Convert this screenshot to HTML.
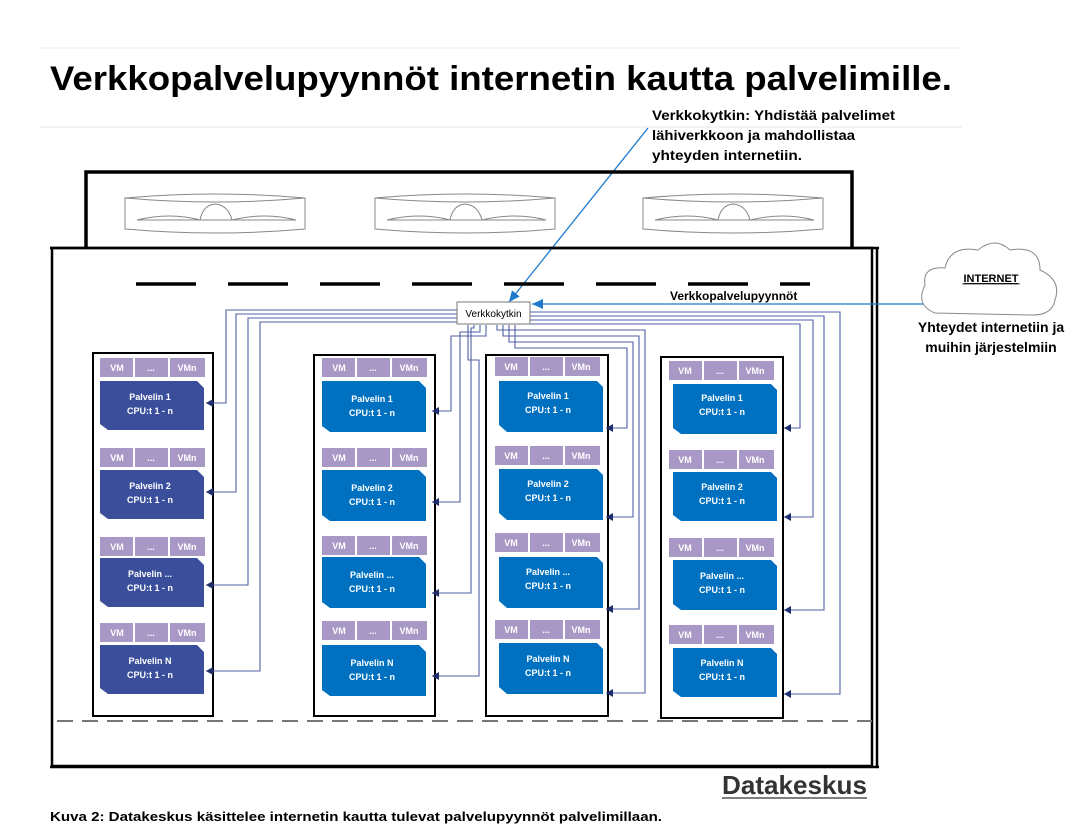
<!DOCTYPE html>
<html><head><meta charset="utf-8"><style>
html,body{margin:0;padding:0;background:#fff;width:1091px;height:832px;overflow:hidden}
svg{display:block}
.t{font-family:"Liberation Sans",sans-serif;font-weight:bold}
.w{fill:#fff;font-size:9px;text-anchor:middle;font-family:"Liberation Sans",sans-serif;font-weight:bold}
.c{fill:none;stroke:#4F62A5;stroke-width:1.1}
</style></head><body>
<svg width="1091" height="832" viewBox="0 0 1091 832" xmlns="http://www.w3.org/2000/svg">
<defs>
<marker id="a" markerWidth="8" markerHeight="8" refX="7" refY="4" orient="auto" markerUnits="userSpaceOnUse"><path d="M0,0L7,4L0,8z" fill="#1F2F6E"/></marker>
<marker id="b" markerWidth="12" markerHeight="10" refX="11" refY="5" orient="auto" markerUnits="userSpaceOnUse"><path d="M0,0L11,5L0,10z" fill="#1F7ACC"/></marker>
</defs>
<line x1="40" y1="48" x2="962" y2="48" stroke="#e8e8e8"/>
<line x1="40" y1="127" x2="962" y2="127" stroke="#e8e8e8"/>
<text class="t" x="50" y="90" font-size="34" textLength="902" lengthAdjust="spacingAndGlyphs">Verkkopalvelupyynnöt internetin kautta palvelimille.</text>
<text class="t" x="652" y="120" font-size="14" textLength="243" lengthAdjust="spacingAndGlyphs">Verkkokytkin: Yhdistää palvelimet</text>
<text class="t" x="652" y="140" font-size="14" textLength="203" lengthAdjust="spacingAndGlyphs">lähiverkkoon ja mahdollistaa</text>
<text class="t" x="652" y="160" font-size="14" textLength="150" lengthAdjust="spacingAndGlyphs">yhteyden internetiin.</text>
<line x1="648" y1="128" x2="509" y2="302" stroke="#1F7ACC" stroke-width="1.3" marker-end="url(#b)"/>
<!-- top box -->
<path d="M86,247 V172 H852 V247" fill="none" stroke="#000" stroke-width="3.5"/>
<g fill="none" stroke="#888" stroke-width="1">
<g id="f1"><path d="M125,198 Q214,190 305,198 V229 Q214,237 125,229 Z M125,198 Q214,206 305,198"/><path d="M137,220 Q170,212 200,220 Q203,205 215,204 Q228,205 232,220 Q265,212 296,220 Z"/></g>
<path d="M375,198 Q465,190 555,198 V229 Q465,237 375,229 Z M375,198 Q465,206 555,198"/><path d="M387,220 Q420,212 450,220 Q453,205 465,204 Q478,205 482,220 Q515,212 546,220 Z"/>
<path d="M643,198 Q733,190 823,198 V229 Q733,237 643,229 Z M643,198 Q733,206 823,198"/><path d="M655,220 Q688,212 718,220 Q721,205 733,204 Q746,205 750,220 Q783,212 814,220 Z"/>
</g>
<!-- main box -->
<rect x="52" y="248" width="820" height="518" fill="none" stroke="#000" stroke-width="2.5"/>
<line x1="877" y1="248" x2="877" y2="766" stroke="#000" stroke-width="2.5"/>
<line x1="50" y1="248" x2="879" y2="248" stroke="#000" stroke-width="2.5"/>
<line x1="50" y1="767" x2="879" y2="767" stroke="#000" stroke-width="2.5"/>
<line x1="136" y1="284" x2="810" y2="284" stroke="#000" stroke-width="3.5" stroke-dasharray="60,32"/>
<line x1="57" y1="721" x2="872" y2="721" stroke="#777" stroke-width="2" stroke-dasharray="16,9"/>
<!-- racks -->
<g fill="none" stroke="#000" stroke-width="2">
<rect x="93" y="353" width="120" height="363"/>
<rect x="314" y="355" width="121" height="361"/>
<rect x="486" y="355" width="122" height="361"/>
<rect x="661" y="357" width="122" height="361"/>
</g>
<!-- connectors -->
<g class="c">
<path d="M457,310 H226 V403 H206" marker-end="url(#a)"/>
<path d="M457,314 H236 V492 H206" marker-end="url(#a)"/>
<path d="M457,318 H248 V585 H206" marker-end="url(#a)"/>
<path d="M457,322 H260 V671 H206" marker-end="url(#a)"/>
<path d="M486,325 V336 H451 V411 H432" marker-end="url(#a)"/>
<path d="M480,325 V332 H460 V502 H432" marker-end="url(#a)"/>
<path d="M474,325 V328 H471 V593 H432" marker-end="url(#a)"/>
<path d="M468,325 V360 H479 V676 H432" marker-end="url(#a)"/>
<path d="M515,325 V348 H627 V428 H606" marker-end="url(#a)"/>
<path d="M509,325 V342 H633 V517 H606" marker-end="url(#a)"/>
<path d="M503,325 V336 H639 V609 H606" marker-end="url(#a)"/>
<path d="M497,325 V330 H645 V693 H606" marker-end="url(#a)"/>
<path d="M530,324 H800 V428 H784" marker-end="url(#a)"/>
<path d="M530,320 H813 V517 H784" marker-end="url(#a)"/>
<path d="M530,316 H824 V610 H784" marker-end="url(#a)"/>
<path d="M530,312 H840 V694 H784" marker-end="url(#a)"/>
</g>
<!-- switch -->
<rect x="457" y="302" width="73" height="22" fill="#fff" stroke="#777"/>
<text x="493.5" y="317" font-size="10" text-anchor="middle" font-family="Liberation Sans,sans-serif">Verkkokytkin</text>
<!-- internet -->
<line x1="925" y1="304" x2="532" y2="304" stroke="#1F7ACC" stroke-width="1.3" marker-end="url(#b)"/>
<text class="t" x="670" y="300" font-size="12">Verkkopalvelupyynnöt</text>
<path d="M935,313 Q915,305 925,285 Q922,266 945,268 Q950,245 978,250 Q995,236 1010,250 Q1040,245 1040,270 Q1062,280 1055,300 Q1052,316 1030,315 Z" fill="#fff" stroke="#888"/>
<text class="t" x="991" y="282" font-size="11" text-decoration="underline" text-anchor="middle">INTERNET</text>
<line x1="962" y1="284" x2="1020" y2="284" stroke="#333" stroke-width="0.8"/>
<text class="t" x="991" y="332" font-size="14" text-anchor="middle">Yhteydet internetiin ja</text>
<text class="t" x="991" y="352" font-size="14" text-anchor="middle">muihin järjestelmiin</text>

<!-- SERVERS: rack 1 (dark) -->
<g>
<g fill="#A898C6"><rect x="100" y="358" width="33" height="19"/><rect x="135" y="358" width="33" height="19"/><rect x="170" y="358" width="35" height="19"/>
<rect x="100" y="448" width="33" height="19"/><rect x="135" y="448" width="33" height="19"/><rect x="170" y="448" width="35" height="19"/>
<rect x="100" y="537" width="33" height="19"/><rect x="135" y="537" width="33" height="19"/><rect x="170" y="537" width="35" height="19"/>
<rect x="100" y="623" width="33" height="19"/><rect x="135" y="623" width="33" height="19"/><rect x="170" y="623" width="35" height="19"/></g>
<g fill="#3A4E9C"><path d="M100,381 H197 L204,388 V430 H108 L100,424 Z"/><path d="M100,470 H197 L204,477 V519 H108 L100,513 Z"/><path d="M100,558 H197 L204,565 V607 H108 L100,601 Z"/><path d="M100,645 H197 L204,652 V694 H108 L100,688 Z"/></g>
<text class="w" x="117" y="371">VM</text><text class="w" x="151" y="371">...</text><text class="w" x="187" y="371">VMn</text>
<text class="w" x="117" y="461">VM</text><text class="w" x="151" y="461">...</text><text class="w" x="187" y="461">VMn</text>
<text class="w" x="117" y="550">VM</text><text class="w" x="151" y="550">...</text><text class="w" x="187" y="550">VMn</text>
<text class="w" x="117" y="636">VM</text><text class="w" x="151" y="636">...</text><text class="w" x="187" y="636">VMn</text>
<text class="w" x="150" y="400">Palvelin 1</text><text class="w" x="150" y="414">CPU:t 1 - n</text>
<text class="w" x="150" y="489">Palvelin 2</text><text class="w" x="150" y="503">CPU:t 1 - n</text>
<text class="w" x="150" y="577">Palvelin ...</text><text class="w" x="150" y="591">CPU:t 1 - n</text>
<text class="w" x="150" y="664">Palvelin N</text><text class="w" x="150" y="678">CPU:t 1 - n</text>
</g>
<!-- rack 2 -->
<g>
<g fill="#A898C6"><rect x="322" y="358" width="33" height="19"/><rect x="357" y="358" width="33" height="19"/><rect x="392" y="358" width="35" height="19"/>
<rect x="322" y="448" width="33" height="19"/><rect x="357" y="448" width="33" height="19"/><rect x="392" y="448" width="35" height="19"/>
<rect x="322" y="536" width="33" height="19"/><rect x="357" y="536" width="33" height="19"/><rect x="392" y="536" width="35" height="19"/>
<rect x="322" y="621" width="33" height="19"/><rect x="357" y="621" width="33" height="19"/><rect x="392" y="621" width="35" height="19"/></g>
<g fill="#0070C0"><path d="M322,381 H419 L426,388 V432 H330 L322,426 Z"/><path d="M322,470 H419 L426,477 V521 H330 L322,515 Z"/><path d="M322,557 H419 L426,564 V608 H330 L322,602 Z"/><path d="M322,645 H419 L426,652 V696 H330 L322,690 Z"/></g>
<text class="w" x="339" y="371">VM</text><text class="w" x="373" y="371">...</text><text class="w" x="409" y="371">VMn</text>
<text class="w" x="339" y="461">VM</text><text class="w" x="373" y="461">...</text><text class="w" x="409" y="461">VMn</text>
<text class="w" x="339" y="549">VM</text><text class="w" x="373" y="549">...</text><text class="w" x="409" y="549">VMn</text>
<text class="w" x="339" y="634">VM</text><text class="w" x="373" y="634">...</text><text class="w" x="409" y="634">VMn</text>
<text class="w" x="372" y="402">Palvelin 1</text><text class="w" x="372" y="416">CPU:t 1 - n</text>
<text class="w" x="372" y="491">Palvelin 2</text><text class="w" x="372" y="505">CPU:t 1 - n</text>
<text class="w" x="372" y="578">Palvelin ...</text><text class="w" x="372" y="592">CPU:t 1 - n</text>
<text class="w" x="372" y="666">Palvelin N</text><text class="w" x="372" y="680">CPU:t 1 - n</text>
</g>
<!-- rack 3 -->
<g>
<g fill="#A898C6"><rect x="495" y="357" width="33" height="19"/><rect x="530" y="357" width="33" height="19"/><rect x="565" y="357" width="35" height="19"/>
<rect x="495" y="446" width="33" height="19"/><rect x="530" y="446" width="33" height="19"/><rect x="565" y="446" width="35" height="19"/>
<rect x="495" y="533" width="33" height="19"/><rect x="530" y="533" width="33" height="19"/><rect x="565" y="533" width="35" height="19"/>
<rect x="495" y="620" width="33" height="19"/><rect x="530" y="620" width="33" height="19"/><rect x="565" y="620" width="35" height="19"/></g>
<g fill="#0070C0"><path d="M499,381 H597 L603,387 V432 H507 L499,425 Z"/><path d="M499,469 H597 L603,475 V520 H507 L499,513 Z"/><path d="M499,557 H597 L603,563 V608 H507 L499,601 Z"/><path d="M499,643 H597 L603,649 V694 H507 L499,687 Z"/></g>
<text class="w" x="511" y="370">VM</text><text class="w" x="546" y="370">...</text><text class="w" x="581" y="370">VMn</text>
<text class="w" x="511" y="459">VM</text><text class="w" x="546" y="459">...</text><text class="w" x="581" y="459">VMn</text>
<text class="w" x="511" y="546">VM</text><text class="w" x="546" y="546">...</text><text class="w" x="581" y="546">VMn</text>
<text class="w" x="511" y="633">VM</text><text class="w" x="546" y="633">...</text><text class="w" x="581" y="633">VMn</text>
<text class="w" x="548" y="399">Palvelin 1</text><text class="w" x="548" y="413">CPU:t 1 - n</text>
<text class="w" x="548" y="487">Palvelin 2</text><text class="w" x="548" y="501">CPU:t 1 - n</text>
<text class="w" x="548" y="575">Palvelin ...</text><text class="w" x="548" y="589">CPU:t 1 - n</text>
<text class="w" x="548" y="662">Palvelin N</text><text class="w" x="548" y="676">CPU:t 1 - n</text>
</g>
<!-- rack 4 -->
<g>
<g fill="#A898C6"><rect x="669" y="361" width="33" height="19"/><rect x="704" y="361" width="33" height="19"/><rect x="739" y="361" width="35" height="19"/>
<rect x="669" y="450" width="33" height="19"/><rect x="704" y="450" width="33" height="19"/><rect x="739" y="450" width="35" height="19"/>
<rect x="669" y="538" width="33" height="19"/><rect x="704" y="538" width="33" height="19"/><rect x="739" y="538" width="35" height="19"/>
<rect x="669" y="625" width="33" height="19"/><rect x="704" y="625" width="33" height="19"/><rect x="739" y="625" width="35" height="19"/></g>
<g fill="#0070C0"><path d="M673,384 H771 L777,390 V434 H681 L673,428 Z"/><path d="M673,472 H771 L777,478 V521 H681 L673,515 Z"/><path d="M673,560 H771 L777,566 V610 H681 L673,604 Z"/><path d="M673,648 H771 L777,654 V697 H681 L673,691 Z"/></g>
<text class="w" x="685" y="374">VM</text><text class="w" x="720" y="374">...</text><text class="w" x="755" y="374">VMn</text>
<text class="w" x="685" y="463">VM</text><text class="w" x="720" y="463">...</text><text class="w" x="755" y="463">VMn</text>
<text class="w" x="685" y="551">VM</text><text class="w" x="720" y="551">...</text><text class="w" x="755" y="551">VMn</text>
<text class="w" x="685" y="638">VM</text><text class="w" x="720" y="638">...</text><text class="w" x="755" y="638">VMn</text>
<text class="w" x="722" y="401">Palvelin 1</text><text class="w" x="722" y="415">CPU:t 1 - n</text>
<text class="w" x="722" y="490">Palvelin 2</text><text class="w" x="722" y="504">CPU:t 1 - n</text>
<text class="w" x="722" y="579">Palvelin ...</text><text class="w" x="722" y="593">CPU:t 1 - n</text>
<text class="w" x="722" y="666">Palvelin N</text><text class="w" x="722" y="680">CPU:t 1 - n</text>
</g>
<!-- bottom -->
<text class="t" x="722" y="794" font-size="26" fill="#333" textLength="145" lengthAdjust="spacingAndGlyphs">Datakeskus</text>
<line x1="722" y1="798" x2="867" y2="798" stroke="#555" stroke-width="1.5"/>
<text class="t" x="50" y="821" font-size="13" textLength="612" lengthAdjust="spacingAndGlyphs">Kuva 2: Datakeskus käsittelee internetin kautta tulevat palvelupyynnöt palvelimillaan.</text>
</svg>
</body></html>
